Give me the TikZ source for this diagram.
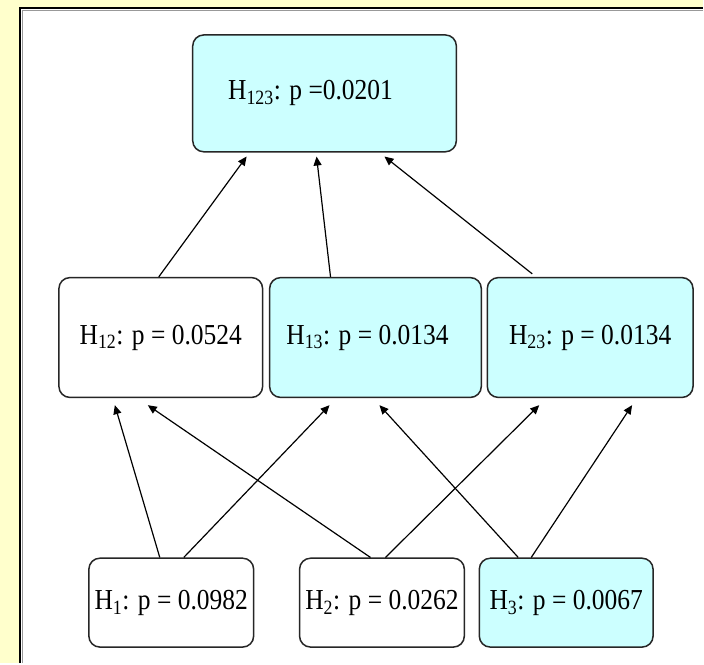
\documentclass[tikz,border=0pt]{standalone}
\usepackage{fontspec}
\setmainfont{Liberation Serif}
\newfontfamily\boxfont[FakeStretch=0.88]{Liberation Serif}
\usetikzlibrary{arrows.meta}
\definecolor{panelyellow}{HTML}{FFFFCC}
\definecolor{hypcyan}{HTML}{CCFFFF}
\tikzset{
  hypbox/.style={draw=black!85,line width=1.5pt,rounded corners=11pt,inner sep=0pt,font=\boxfont\fontsize{29}{32}\selectfont},
  sig/.style={hypbox,fill=hypcyan},
  nonsig/.style={hypbox,fill=white},
  link/.style={-{Triangle[length=9pt,width=8pt]},line width=1.2pt}
}
\begin{document}
\begin{tikzpicture}[x=1pt,y=1pt]
% panel
\fill[panelyellow] (0,0) rectangle (704,664);
\fill[white] (20,0) rectangle (704,656);
\draw[black!40,line width=1.5pt] (22.5,0) -- (22.5,653.5) -- (704,653.5);
\draw[line width=2pt] (20,0) -- (20,656) -- (704,656);
% hypotheses
\node[sig,minimum width=264pt,minimum height=117pt] (h123) at (325,570.5) {H\textsubscript{123}: p =0.0201\hspace*{28pt}};
\node[nonsig,minimum width=204pt,minimum height=120pt] (h12) at (161,326) {H\textsubscript{12}: p = 0.0524};
\node[sig,minimum width=212pt,minimum height=120pt] (h13) at (376,326) {H\textsubscript{13}: p = 0.0134\hspace*{16pt}};
\node[sig,minimum width=206pt,minimum height=120pt] (h23) at (591,326) {H\textsubscript{23}: p = 0.0134};
\node[nonsig,minimum width=165pt,minimum height=89pt] (h1) at (171.5,60.5) {H\textsubscript{1}: p = 0.0982};
\node[nonsig,minimum width=165pt,minimum height=89pt] (h2) at (382.5,60.5) {H\textsubscript{2}: p = 0.0262};
\node[sig,minimum width=174pt,minimum height=89pt] (h3) at (567,60.5) {H\textsubscript{3}: p = 0.0067};
% middle -> top
\draw[link] ([xshift=-2pt]h12.north) -- ([xshift=-78pt,yshift=-4pt]h123.south);
\draw[link] ([xshift=-45pt]h13.north) -- ([xshift=-8pt,yshift=-4pt]h123.south);
\draw[link] ([xshift=-58pt,yshift=3pt]h23.north) -- ([xshift=60pt,yshift=-4pt]h123.south);
% bottom -> middle
\foreach \from/\fx/\to/\tx in {h1/-11.5/h12/-46, h1/12.5/h13/-46, h2/-11.5/h12/-13, h2/3.5/h23/-51, h3/-48/h13/4, h3/-35/h23/42}
  \draw[link] ([xshift=\fx pt]\from.north) -- ([xshift=\tx pt,yshift=-7pt]\to.south);
\end{tikzpicture}
\end{document}
